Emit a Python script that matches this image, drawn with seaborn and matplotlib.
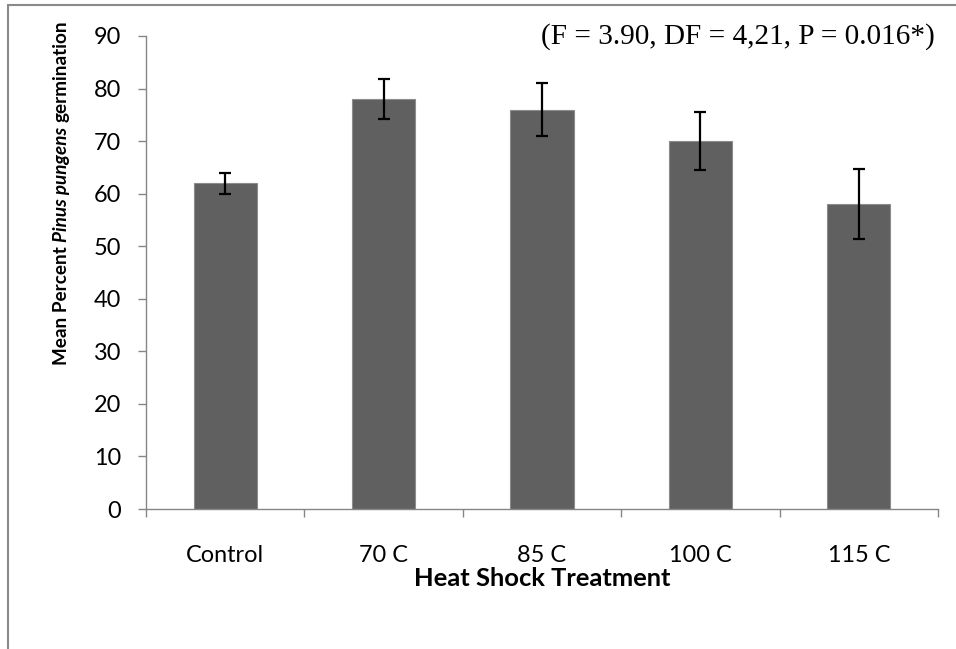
import matplotlib
matplotlib.use("Agg")
import matplotlib.pyplot as plt
import seaborn as sns
import pandas as pd
import numpy as np
from matplotlib.lines import Line2D
from matplotlib.transforms import IdentityTransform

categories = ["Control", "70 C", "85 C", "100 C", "115 C"]
means = [62, 78, 76, 70, 58]
errors = [2.0, 3.8, 5.1, 5.5, 6.6]
yticks = [0, 10, 20, 30, 40, 50, 60, 70, 80, 90]
annotation = "(F = 3.90, DF = 4,21, P = 0.016*)"
ylabel_parts = [("Mean Percent", "normal"), ("Pinus pungens", "italic"), ("germination", "normal")]
xlabel = "Heat Shock Treatment"

sns.set_theme(style="white")
plt.rcParams["font.family"] = ["Lato", "DejaVu Sans"]

df = pd.DataFrame({"cat": categories, "mean": means, "err": errors})

W, H = 956, 649
fig = plt.figure(figsize=(W/100, H/100), dpi=100)
ax = fig.add_axes([146/W, 1-509/H, (938-146)/W, (509-36)/H])

sns.barplot(data=df, x="cat", y="mean", order=categories, color="#606060",
            width=0.4, saturation=1, edgecolor="#8c8c8c", linewidth=0.8,
            errorbar=None, ax=ax)
ax.errorbar(np.arange(len(categories)), df["mean"], yerr=df["err"], fmt="none",
            ecolor="black", elinewidth=1.6, capsize=4.4, capthick=1.6, zorder=5)

tick_fs = 16.5
ax.set_ylim(0, 90)
ax.set_xlim(-0.5, len(categories) - 0.5)
ax.set_yticks(yticks)
ax.set_yticklabels([str(v) for v in yticks], fontsize=tick_fs, color="black")
ax.set_xticks(np.arange(len(categories) + 1) - 0.5)
ax.set_xticklabels([])
ax.set_xticks(np.arange(len(categories)), minor=True)
ax.set_xticklabels(categories, minor=True, fontsize=tick_fs, color="black")
ax.tick_params(axis="x", which="major", direction="out", length=6, width=1,
               color="#868686", bottom=True)
ax.tick_params(axis="x", which="minor", length=0, pad=26, bottom=True)
ax.tick_params(axis="y", which="major", direction="out", length=6, width=1,
               color="#868686", left=True, pad=12)
for s in ["top", "right"]:
    ax.spines[s].set_visible(False)
for s in ["left", "bottom"]:
    ax.spines[s].set_color("#868686")
    ax.spines[s].set_linewidth(1)
ax.set_xlabel("")
ax.set_ylabel("")
ax.grid(False)

xl = fig.text(542/W, 1-578/H, xlabel, ha="center", va="center",
              fontsize=17, fontweight="bold", color="black")
an = fig.text(935/W, 1-37/H, annotation, ha="right", va="center",
              fontsize=21, family=["Liberation Serif", "DejaVu Serif"], color="black")

yparts = [fig.text(0, 0, s, rotation=90, rotation_mode="anchor", ha="left",
                   va="baseline", fontweight="bold", style=st, fontsize=15,
                   color="black", transform=IdentityTransform())
          for s, st in ylabel_parts]

fig.canvas.draw()
r = fig.canvas.get_renderer()

y_start = H - 365   # bottom end of the y label (display px)
y_base_x = 67       # baseline x of the rotated label


def layout_ylabel(fs):
    y = y_start
    gap = fs * 0.24 * 100 / 72
    for t in yparts:
        t.set_fontsize(fs)
        t.set_position((y_base_x, y))
        h = t.get_window_extent(r).height
        y += h + gap
    return y - gap - y_start


yfs = 15
for _ in range(3):
    total = layout_ylabel(yfs)
    yfs = yfs * 342 / total
layout_ylabel(yfs)

for _ in range(2):
    for t, target in [(xl, 255), (an, 393)]:
        bb = t.get_window_extent(r)
        t.set_fontsize(t.get_fontsize() * target / bb.width)
    ctl = [lab for lab in ax.get_xticklabels(minor=True) if lab.get_text() == "Control"][0]
    w = ctl.get_window_extent(r).width
    tick_fs = tick_fs * 78 / w
    for lab in ax.get_xticklabels(minor=True) + ax.get_yticklabels():
        lab.set_fontsize(tick_fs)
    fig.canvas.draw()

# chart-area border (top and left visible)
fig.add_artist(Line2D([8/W, 8/W], [0, 1-5/H], transform=fig.transFigure,
                      color="#8a8a8a", lw=1.5))
fig.add_artist(Line2D([8/W, 1], [1-5/H, 1-5/H], transform=fig.transFigure,
                      color="#8a8a8a", lw=1.5))

fig.savefig("out.png", dpi=100)
